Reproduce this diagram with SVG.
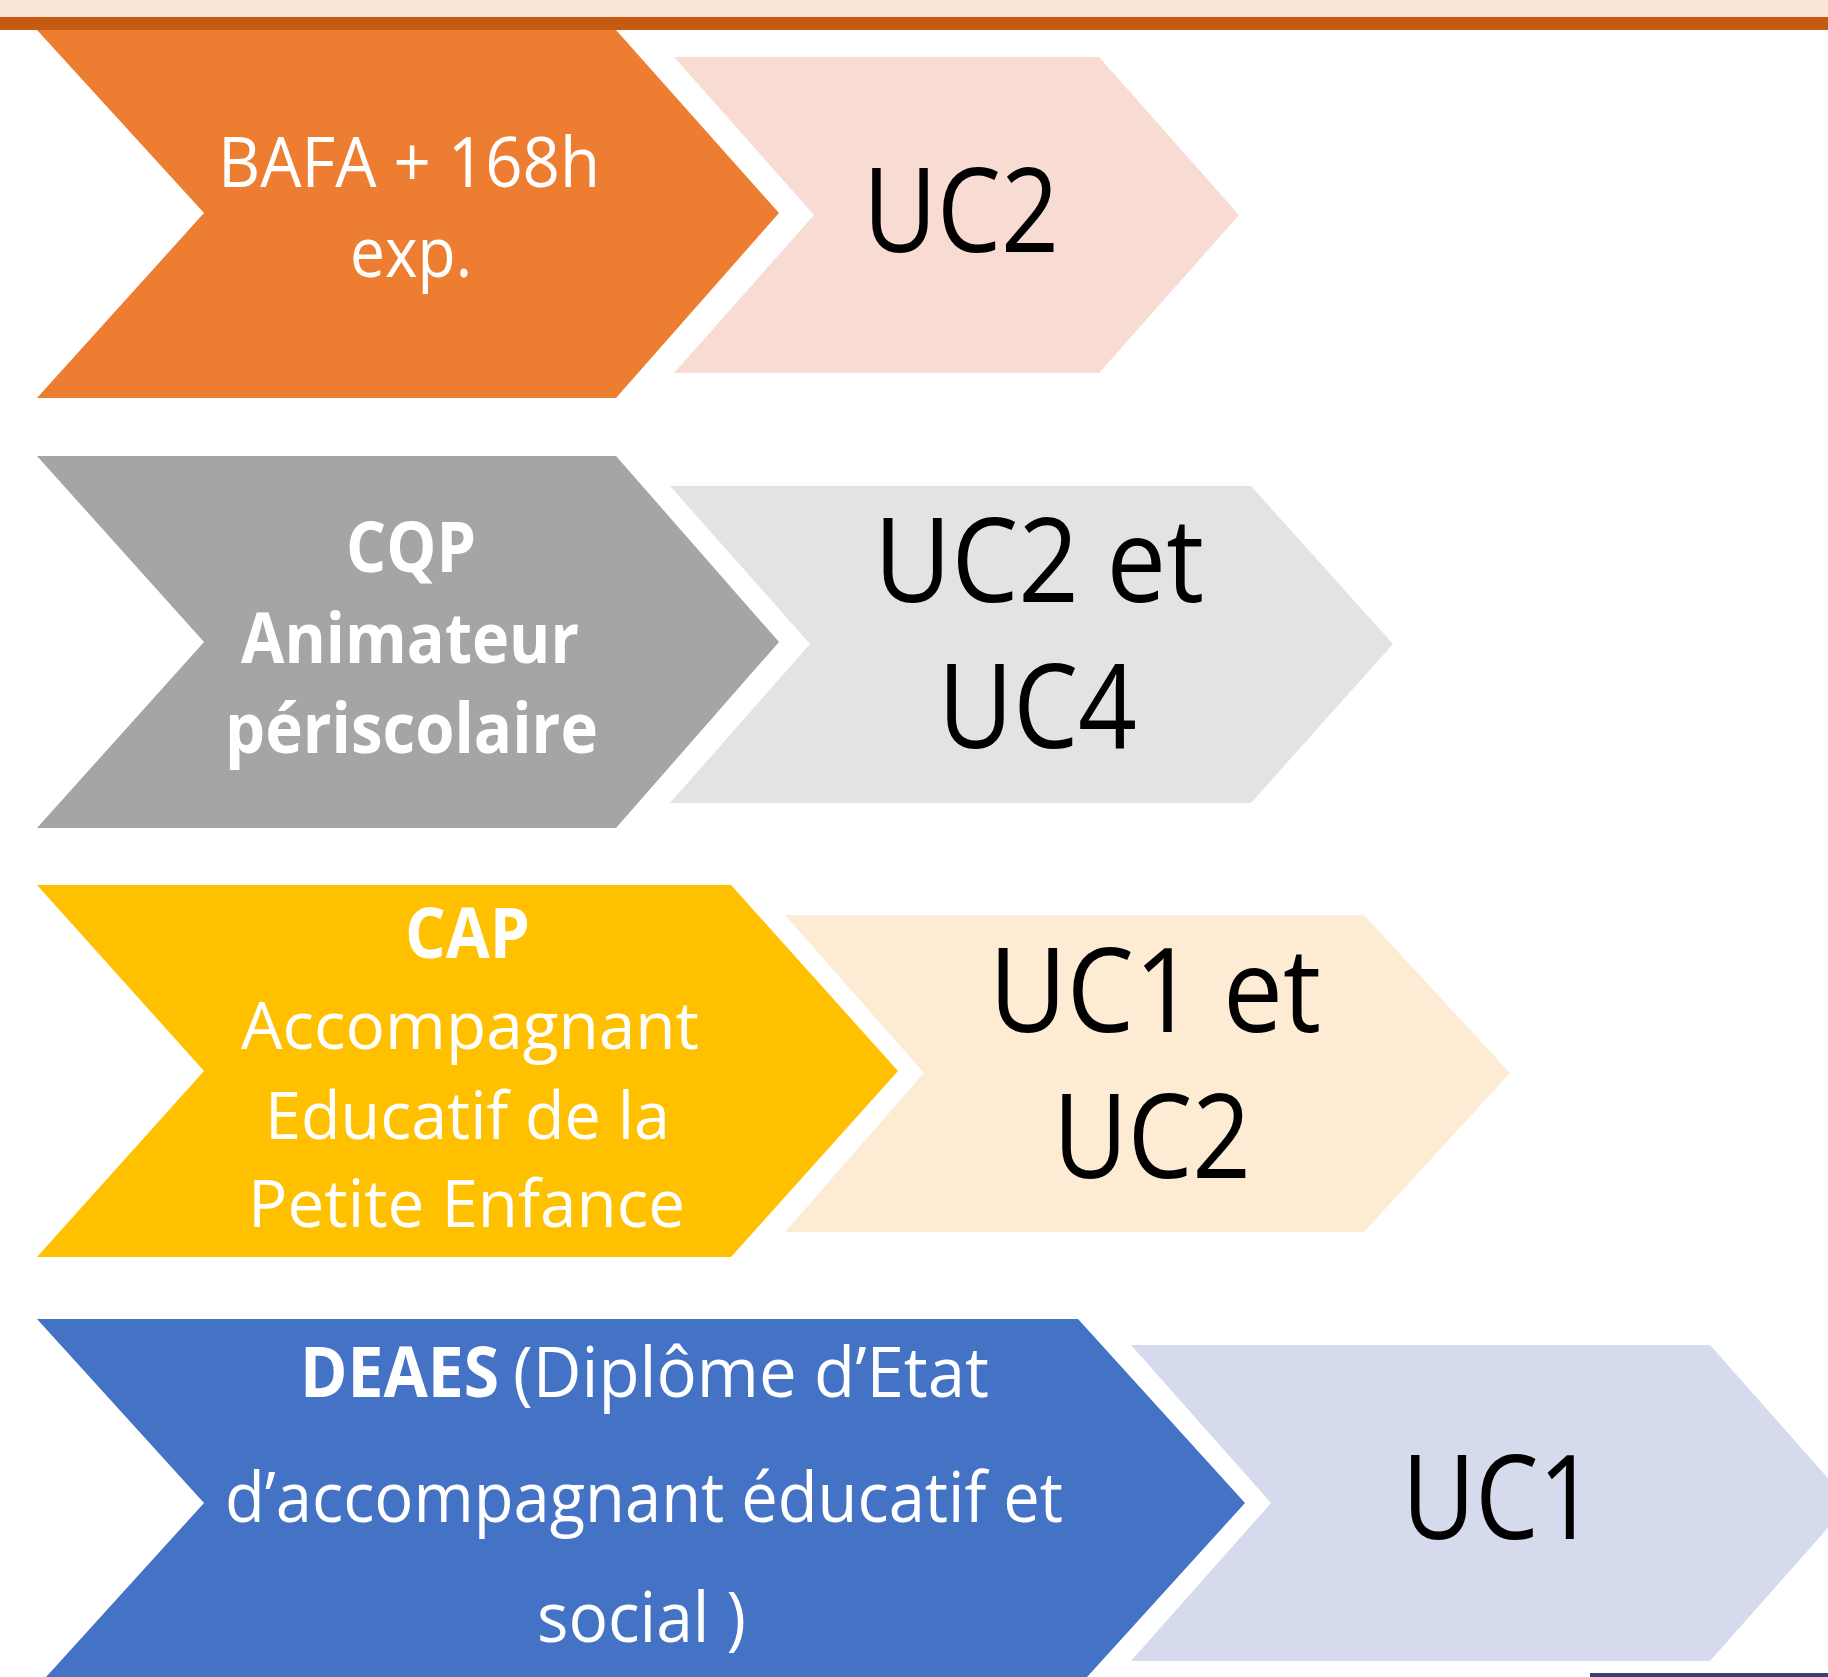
<svg xmlns="http://www.w3.org/2000/svg" width="1828" height="1677" viewBox="0 0 1828 1677">
<style>
.w{fill:#FFFFFF;font-family:"Open Sans","Noto Sans","Liberation Sans",sans-serif;font-size:70px}
.s{font-size:66px}
.b{font-weight:bold}
.k{fill:#000000;font-family:"Open Sans","Noto Sans","Liberation Sans",sans-serif;font-size:118px}
</style>
<rect x="0" y="0" width="1828" height="1677" fill="#FFFFFF"/>
<g id="header">
<rect x="0" y="0" width="1828" height="17" fill="#FBE5D6"/>
<rect x="0" y="17" width="1828" height="13" fill="#C55A11"/>
</g>
<g id="row1-source">
<polygon points="37,30 616,30 779,213 616,398 37,398 204,213" fill="#ED7D31"/>
<text class="w" x="218" y="187" textLength="382" lengthAdjust="spacingAndGlyphs">BAFA + 168h</text>
<text class="w" x="350" y="277" textLength="122" lengthAdjust="spacingAndGlyphs">exp.</text>
</g>
<g id="row1-target">
<polygon points="674,57 1099,57 1239,215 1099,373 674,373 814,215" fill="#F8DBD2"/>
<text class="k" x="863" y="252" textLength="196" lengthAdjust="spacingAndGlyphs">UC2</text>
</g>
<g id="row2-source">
<polygon points="37,456 616,456 779,642 616,828 37,828 204,642" fill="#A5A5A5"/>
<text class="w b" x="346" y="572" textLength="130" lengthAdjust="spacingAndGlyphs">CQP</text>
<text class="w b" x="241" y="663" textLength="338" lengthAdjust="spacingAndGlyphs">Animateur</text>
<text class="w b" x="225" y="753" textLength="373" lengthAdjust="spacingAndGlyphs">périscolaire</text>
</g>
<g id="row2-target">
<polygon points="670,486 1251,486 1393,644 1251,803 670,803 810,644" fill="#E3E3E3"/>
<text class="k" x="874" y="602" textLength="330" lengthAdjust="spacingAndGlyphs">UC2 et</text>
<text class="k" x="938" y="748" textLength="199" lengthAdjust="spacingAndGlyphs">UC4</text>
</g>
<g id="row3-source">
<polygon points="37,885 731,885 898,1071 731,1257 37,1257 204,1071" fill="#FFC000"/>
<text class="w b" x="405" y="958" textLength="125" lengthAdjust="spacingAndGlyphs">CAP</text>
<text class="w s" x="241" y="1049" textLength="458" lengthAdjust="spacingAndGlyphs">Accompagnant</text>
<text class="w s" x="265" y="1139" textLength="405" lengthAdjust="spacingAndGlyphs">Educatif de la</text>
<text class="w s" x="248" y="1227" textLength="437" lengthAdjust="spacingAndGlyphs">Petite Enfance</text>
</g>
<g id="row3-target">
<polygon points="785,915 1364,915 1510,1073 1364,1232 785,1232 924,1073" fill="#FEEBD3"/>
<text class="k" x="989" y="1032" textLength="332" lengthAdjust="spacingAndGlyphs">UC1 et</text>
<text class="k" x="1053" y="1178" textLength="198" lengthAdjust="spacingAndGlyphs">UC2</text>
</g>
<g id="row4-source">
<polygon points="37,1319 1078,1319 1245,1503 1078,1687 37,1687 204,1503" fill="#4472C4"/>
<text class="w b" x="300" y="1397" textLength="199" lengthAdjust="spacingAndGlyphs">DEAES</text>
<text class="w" x="513" y="1397" textLength="476" lengthAdjust="spacingAndGlyphs">(Diplôme d’Etat</text>
<text class="w" x="225" y="1522" textLength="838" lengthAdjust="spacingAndGlyphs">d’accompagnant éducatif et</text>
<text class="w" x="537" y="1642" textLength="209" lengthAdjust="spacingAndGlyphs">social )</text>
</g>
<g id="row4-target">
<polygon points="1131,1345 1710,1345 1850,1503 1710,1661 1131,1661 1271,1503" fill="#D5DAEC"/>
<text class="k" x="1402" y="1539" textLength="194" lengthAdjust="spacingAndGlyphs">UC1</text>
</g>
<g id="connectors"></g>
<rect x="1590" y="1673" width="238" height="4" fill="#3A3E7E"/>
</svg>
